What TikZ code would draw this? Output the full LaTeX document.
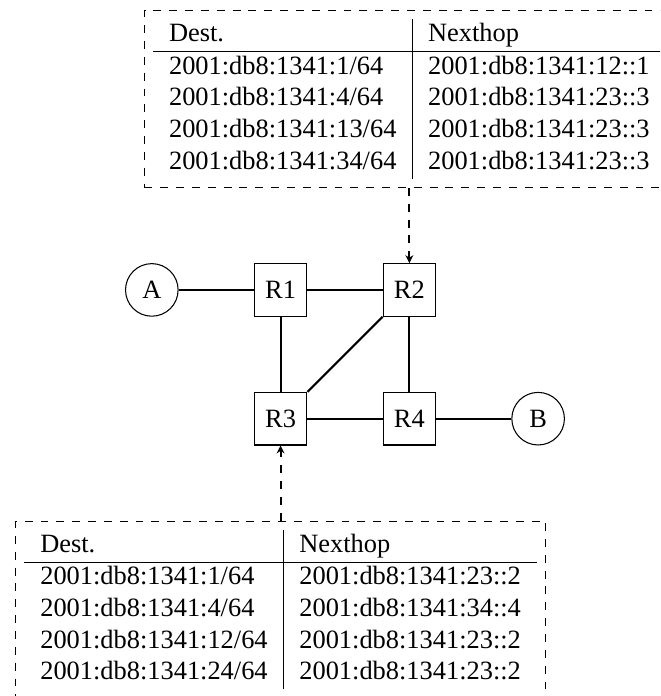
\documentclass[tikz,border=0pt]{standalone}
\usepackage{fontspec}
\setmainfont{Liberation Serif}
\usetikzlibrary{arrows.meta, positioning}

\begin{document}
\begin{tikzpicture}[
    node distance=1cm,
    router/.style={rectangle, draw, minimum size=7mm},
    host/.style={circle, draw, minimum size=7mm},
    link/.style={thick},
    tablebox/.style={rectangle, draw, dashed},
    lookup/.style={-{Stealth[length=3pt, width=3pt]}, thick, dashed}
]
\useasboundingbox (-57.5pt,-153.8pt) rectangle (192.5pt,109.8pt);
\clip (-57.5pt,-153.8pt) rectangle (192.5pt,109.8pt);

% hosts and routers
\node[host] (A) at (0,0) {A};
\node[router, right=of A] (r1) {R1};
\node[router, right=of r1] (r2) {R2};
\node[router, below=of r1] (r3) {R3};
\node[router, right=of r3] (r4) {R4};
\node[host, right=of r4] (B) {B};

% routing tables
\node[tablebox, above=of r2] (tab2) {%
\begin{tabular}{l|l}
Dest. & Nexthop \\ \hline
2001:db8:1341:1/64 & 2001:db8:1341:12::1 \\
2001:db8:1341:4/64 & 2001:db8:1341:23::3 \\
2001:db8:1341:13/64 & 2001:db8:1341:23::3 \\
2001:db8:1341:34/64 & 2001:db8:1341:23::3
\end{tabular}};
\node[tablebox, below=of r3] (tab3) {%
\begin{tabular}{l|l}
Dest. & Nexthop \\ \hline
2001:db8:1341:1/64 & 2001:db8:1341:23::2 \\
2001:db8:1341:4/64 & 2001:db8:1341:34::4 \\
2001:db8:1341:12/64 & 2001:db8:1341:23::2 \\
2001:db8:1341:24/64 & 2001:db8:1341:23::2
\end{tabular}};

\draw[link] (A) -- (r1);
\draw[link] (r1) -- (r2);
\draw[link] (r1) -- (r3);
\draw[link] (r2) -- (r3);
\draw[link] (r2) -- (r4);
\draw[link] (r3) -- (r4);
\draw[link] (r4) -- (B);

\draw[lookup] (tab2) -- (r2);
\draw[lookup] (tab3) -- (r3);

\end{tikzpicture}
\end{document}
